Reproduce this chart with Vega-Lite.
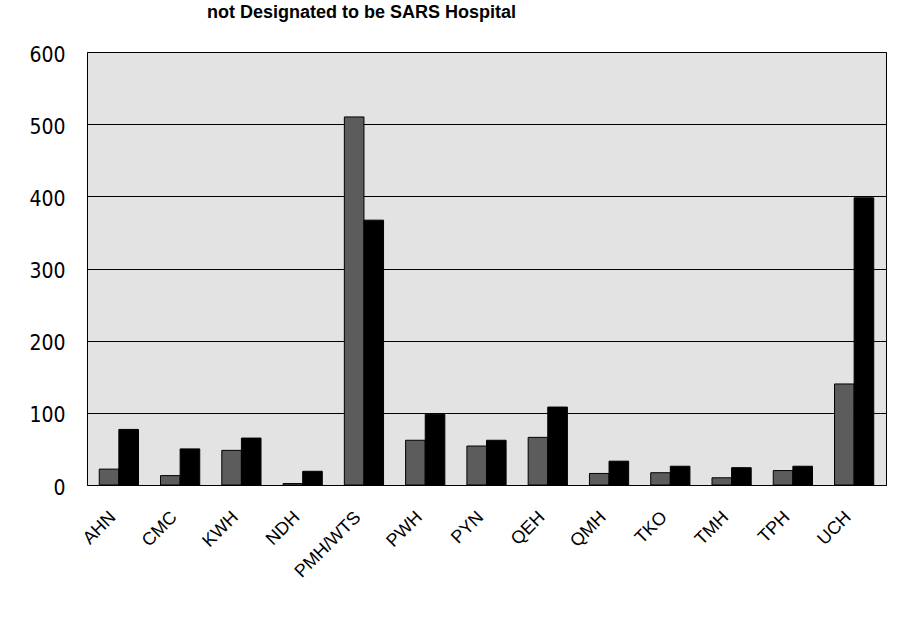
{
  "$schema": "https://vega.github.io/schema/vega-lite/v6.json",
  "width": 799,
  "height": 433,
  "autosize": {"type": "none"},
  "padding": {"left": 87, "top": 52, "right": 11, "bottom": 141},
  "background": "white",
  "title": {
    "text": "not Designated to be SARS Hospital",
    "font": "Liberation Sans",
    "fontWeight": "bold",
    "fontSize": 18,
    "color": "black",
    "anchor": "middle",
    "dx": -125,
    "offset": 22
  },
  "data": {
    "values": [
      {"hospital": "AHN", "series": "A", "value": 22},
      {"hospital": "AHN", "series": "B", "value": 77},
      {"hospital": "CMC", "series": "A", "value": 13},
      {"hospital": "CMC", "series": "B", "value": 50},
      {"hospital": "KWH", "series": "A", "value": 48},
      {"hospital": "KWH", "series": "B", "value": 65},
      {"hospital": "NDH", "series": "A", "value": 2},
      {"hospital": "NDH", "series": "B", "value": 19},
      {"hospital": "PMH/WTS", "series": "A", "value": 510},
      {"hospital": "PMH/WTS", "series": "B", "value": 367},
      {"hospital": "PWH", "series": "A", "value": 62},
      {"hospital": "PWH", "series": "B", "value": 98},
      {"hospital": "PYN", "series": "A", "value": 54},
      {"hospital": "PYN", "series": "B", "value": 62},
      {"hospital": "QEH", "series": "A", "value": 66},
      {"hospital": "QEH", "series": "B", "value": 108},
      {"hospital": "QMH", "series": "A", "value": 16},
      {"hospital": "QMH", "series": "B", "value": 33},
      {"hospital": "TKO", "series": "A", "value": 17},
      {"hospital": "TKO", "series": "B", "value": 26},
      {"hospital": "TMH", "series": "A", "value": 10},
      {"hospital": "TMH", "series": "B", "value": 24},
      {"hospital": "TPH", "series": "A", "value": 20},
      {"hospital": "TPH", "series": "B", "value": 26},
      {"hospital": "UCH", "series": "A", "value": 140},
      {"hospital": "UCH", "series": "B", "value": 398}
    ]
  },
  "mark": {"type": "bar", "stroke": "black", "strokeWidth": 1},
  "encoding": {
    "x": {
      "field": "hospital",
      "type": "nominal",
      "sort": null,
      "title": null,
      "scale": {"paddingInner": 0.36, "paddingOuter": 0.2},
      "axis": {
        "labelAngle": -45,
        "labelFont": "Liberation Sans",
        "labelFontSize": 18,
        "labelColor": "black",
        "labelPadding": 23,
        "labelOffset": -12,
        "ticks": false,
        "domain": false
      }
    },
    "xOffset": {"field": "series", "sort": ["A", "B"]},
    "y": {
      "field": "value",
      "type": "quantitative",
      "title": null,
      "scale": {"domain": [0, 600], "nice": false},
      "axis": {
        "values": [0, 100, 200, 300, 400, 500, 600],
        "labelFont": "DejaVu Sans Condensed, Liberation Sans Narrow, Arial Narrow, Liberation Sans",
        "labelFontSize": 21,
        "labelColor": "black",
        "labelPadding": 22,
        "labelOffset": 3,
        "ticks": false,
        "domain": false,
        "gridColor": "black",
        "gridOpacity": 1,
        "gridWidth": 1
      }
    },
    "fill": {
      "field": "series",
      "scale": {"domain": ["A", "B"], "range": ["#5c5c5c", "#000000"]},
      "legend": null
    }
  },
  "config": {
    "view": {"fill": "#e3e3e3", "stroke": "black", "strokeWidth": 1}
  }
}
